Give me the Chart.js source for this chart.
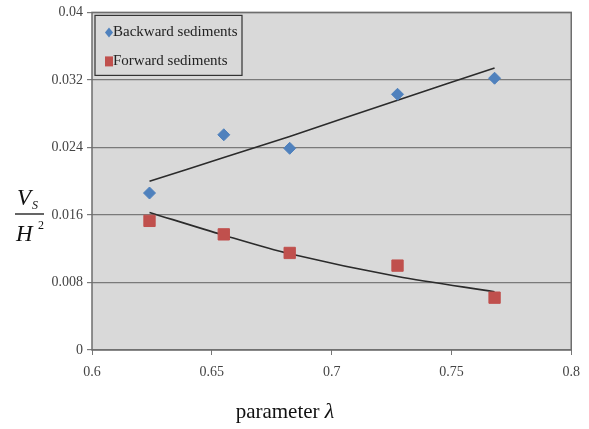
<!DOCTYPE html>
<html>
<head>
<meta charset="utf-8">
<script src="https://cdn.jsdelivr.net/npm/chart.js@4/dist/chart.umd.min.js"></script>
<style>
  html, body { margin: 0; padding: 0; background: #fff; }
  #wrap { width: 589px; height: 429px; position: relative; }
</style>
</head>
<body>
<div id="wrap"><canvas id="sedChart"></canvas></div>
<script>
// parameter lambda for each test
const lambdaVals = [0.624, 0.655, 0.6825, 0.7275, 0.768];
const backwardVs = [0.0186, 0.0255, 0.0239, 0.0303, 0.0322];
const forwardVs = [0.0153, 0.0137, 0.0115, 0.0100, 0.0062];

// fitted curves
const trendLambda = [0.624, 0.655, 0.6825, 0.7275, 0.768];
const backwardFit = [0.0200, 0.0228, 0.0253, 0.0296, 0.0334];
const forwardFit = [0.0163, 0.0136, 0.0114, 0.0087, 0.0069];

const xTicks = [0.6, 0.65, 0.7, 0.75, 0.8];
const yTicks = [0, 0.008, 0.016, 0.024, 0.032, 0.04];

const seriesNames = ['Backward sediments', 'Forward sediments'];

const toPts = (xs, ys) => xs.map((x, i) => ({ x: x, y: ys[i] }));

const serif = '"Liberation Serif", "Times New Roman", serif';

// gray plot area + frame
const plotBg = {
    id: 'plotBg',
    beforeDraw(chart) {
        const { ctx, chartArea: a } = chart;
        ctx.save();
        ctx.fillStyle = '#d9d9d9';
        ctx.fillRect(a.left, a.top, a.right - a.left, a.bottom - a.top);
        ctx.restore();
    },
    afterDatasetsDraw(chart) {
        const { ctx, chartArea: a } = chart;
        ctx.save();
        ctx.strokeStyle = '#6e6e6e';
        ctx.lineWidth = 1.5;
        ctx.strokeRect(a.left, a.top, a.right - a.left, a.bottom - a.top);
        ctx.restore();
    }
};

// boxed legend in top-left corner
const boxLegend = {
    id: 'boxLegend',
    afterDraw(chart) {
        const { ctx, chartArea: a } = chart;
        const x0 = a.left + 3, y0 = a.top + 3;
        ctx.save();
        ctx.fillStyle = '#d9d9d9';
        ctx.fillRect(x0, y0, 147, 60);
        ctx.strokeStyle = '#333';
        ctx.lineWidth = 1.2;
        ctx.strokeRect(x0, y0, 147, 60);
        ctx.font = '15px ' + serif;
        ctx.textBaseline = 'middle';
        [0, 1].forEach(i => {
            const ds = chart.data.datasets[i];
            const cy = y0 + 17 + i * 29;
            ctx.fillStyle = ds.backgroundColor;
            ctx.beginPath();
            if (i === 0) {
                ctx.moveTo(x0 + 14, cy - 5);
                ctx.lineTo(x0 + 18, cy);
                ctx.lineTo(x0 + 14, cy + 5);
                ctx.lineTo(x0 + 10, cy);
                ctx.closePath();
            } else {
                ctx.rect(x0 + 10, cy - 5, 8, 10);
            }
            ctx.fill();
            ctx.fillStyle = '#222';
            ctx.fillText(seriesNames[i], x0 + 18, cy);
        });
        ctx.restore();
    }
};

// axis titles: fraction Vs/H^2 and "parameter λ"
const axisTitles = {
    id: 'axisTitles',
    afterDraw(chart) {
        const { ctx } = chart;
        ctx.save();
        ctx.fillStyle = '#111';
        ctx.textBaseline = 'alphabetic';
        ctx.font = 'italic 23px ' + serif;
        ctx.fillText('V', 17, 205);
        ctx.font = 'italic 12px ' + serif;
        ctx.fillText('S', 32, 209);
        ctx.strokeStyle = '#111';
        ctx.lineWidth = 1.3;
        ctx.beginPath();
        ctx.moveTo(15, 214);
        ctx.lineTo(44, 214);
        ctx.stroke();
        ctx.font = 'italic 23px ' + serif;
        ctx.fillText('H', 16, 241);
        ctx.font = '12px ' + serif;
        ctx.fillText('2', 38, 229);

        ctx.font = '21px ' + serif;
        const w1 = ctx.measureText('parameter ').width;
        ctx.font = 'italic 22px ' + serif;
        const w2 = ctx.measureText('λ').width;
        let x = 285 - (w1 + w2) / 2;
        ctx.font = '21px ' + serif;
        ctx.fillText('parameter ', x, 418);
        ctx.font = 'italic 22px ' + serif;
        ctx.fillText('λ', x + w1, 418);
        ctx.restore();
    }
};

new Chart(document.getElementById('sedChart'), {
    type: 'scatter',
    data: {
        datasets: [
            {
                label: seriesNames[0],
                data: toPts(lambdaVals, backwardVs),
                backgroundColor: '#4f81bd',
                borderColor: '#4f81bd',
                pointStyle: 'rectRot',
                pointRadius: 6,
                order: 1
            },
            {
                label: seriesNames[1],
                data: toPts(lambdaVals, forwardVs),
                backgroundColor: '#c0504d',
                borderColor: '#c0504d',
                pointStyle: 'rect',
                pointRadius: 8,
                order: 1
            },
            {
                label: 'fit backward',
                data: toPts(trendLambda, backwardFit),
                showLine: true,
                borderColor: '#2b2b2b',
                borderWidth: 1.6,
                pointRadius: 0,
                tension: 0.3,
                order: 2
            },
            {
                label: 'fit forward',
                data: toPts(trendLambda, forwardFit),
                showLine: true,
                borderColor: '#2b2b2b',
                borderWidth: 1.6,
                pointRadius: 0,
                tension: 0.3,
                order: 2
            }
        ]
    },
    options: {
        responsive: true,
        maintainAspectRatio: false,
        animation: false,
        layout: { padding: { top: 12, right: 17, left: 0, bottom: 0 } },
        plugins: {
            legend: { display: false },
            tooltip: { enabled: false }
        },
        scales: {
            x: {
                type: 'linear',
                min: 0.6,
                max: 0.8,
                afterBuildTicks: s => { s.ticks = xTicks.map(v => ({ value: v })); },
                afterFit: s => { s.height = 79; },
                grid: { display: true, drawOnChartArea: false, color: '#777', tickLength: 5 },
                border: { display: false },
                ticks: {
                    color: '#444',
                    font: { family: serif, size: 14 },
                    padding: 9,
                    maxRotation: 0,
                    callback: v => String(v)
                }
            },
            y: {
                type: 'linear',
                min: 0,
                max: 0.04,
                afterBuildTicks: s => { s.ticks = yTicks.map(v => ({ value: v })); },
                afterFit: s => { s.width = 92; },
                grid: { color: '#7a7a7a', lineWidth: 1.2, tickLength: 5 },
                border: { display: false },
                ticks: {
                    color: '#444',
                    font: { family: serif, size: 14 },
                    padding: 4,
                    callback: v => String(v)
                }
            }
        }
    },
    plugins: [plotBg, boxLegend, axisTitles]
});
</script>
</body>
</html>
